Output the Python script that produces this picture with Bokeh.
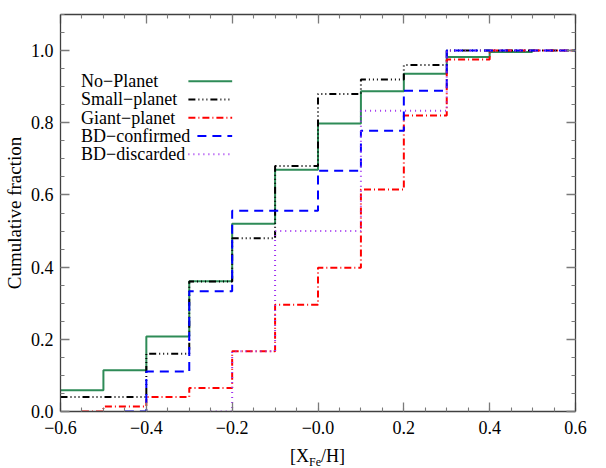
from bokeh.plotting import figure
from bokeh.models import FixedTicker, LinearAxis, Range1d, Label, CustomJSTickFormatter, Div
from bokeh.layouts import column
from bokeh.embed import file_html
from bokeh.resources import INLINE

# ---------------- data ----------------
bin_edges = [-0.6, -0.5, -0.4, -0.3, -0.2, -0.1, 0.0, 0.1, 0.2, 0.3, 0.4, 0.5, 0.6]
no_planet    = [0.059, 0.114, 0.208, 0.361, 0.520, 0.670, 0.798, 0.887, 0.936, 0.982, 0.996, None]
small_planet = [0.04, 0.04, 0.16, 0.36, 0.48, 0.68, 0.88, 0.92, 0.96, 1.0, 1.0, 1.0]
giant_planet = [0.0, 0.014, 0.040, 0.065, 0.167, 0.296, 0.398, 0.615, 0.820, 0.975, 1.0, 1.0]
bd_confirmed = [None, 0.0, 0.111, 0.333, 0.556, 0.556, 0.667, 0.778, 0.889, 1.0, 1.0, 1.0]
bd_discarded = [None, None, None, 0.0, 0.167, 0.5, 0.5, 0.833, 0.833, 1.0, 1.0, 1.0]
series_names = ["No\u2212Planet", "Small\u2212planet", "Giant\u2212planet", "BD\u2212confirmed", "BD\u2212discarded"]
series_start = [-0.6, -0.6, -0.55, -0.45, -0.25]
series_end = [0.5, 0.6, 0.6, 0.6, 0.6]
x_ticks = [-0.6, -0.4, -0.2, 0.0, 0.2, 0.4, 0.6]
x_tick_labels = ["\u22120.6", "\u22120.4", "\u22120.2", "\u22120.0", "0.2", "0.4", "0.6"]
y_ticks = [0.0, 0.2, 0.4, 0.6, 0.8, 1.0]
y_tick_labels = ["0.0", "0.2", "0.4", "0.6", "0.8", "1.0"]

# ---------------- styles ----------------
FONT = "Liberation Serif"
styles = [
    dict(line_color="#2e8b57", line_width=2.0, line_dash="solid"),
    dict(line_color="#000000", line_width=2.0, line_dash="7 3 1 3 1 3 1 3"),
    dict(line_color="#ff0000", line_width=2.0, line_dash="7 3 1 3"),
    dict(line_color="#0000ff", line_width=2.0, line_dash="9 6"),
    dict(line_color="#a030f0", line_width=2.0, line_dash="1 4"),
]

LEFT, RIGHT, FW = 53, 22, 515


def steps(vals, x0, x1):
    xs, ys = [], []
    for i, v in enumerate(vals):
        if v is None:
            continue
        a = max(bin_edges[i], x0)
        b = min(bin_edges[i + 1], x1)
        if b <= a:
            continue
        xs += [a, b]
        ys += [v, v]
    return xs, ys


def label_formatter(vals, labels):
    return CustomJSTickFormatter(args=dict(tvals=vals, tlabels=labels), code="""
        let best = 0, d = 1e9;
        for (let i = 0; i < tvals.length; i++) {
            const dd = Math.abs(tvals[i] - tick);
            if (dd < d) { d = dd; best = i; }
        }
        return tlabels[best];
    """)


xr = Range1d(-0.6, 0.6)
p = figure(frame_width=FW, frame_height=397, output_backend="svg", toolbar_location=None,
           x_range=xr, y_range=Range1d(0.0, 1.1),
           min_border_left=LEFT, min_border_right=RIGHT, min_border_top=14, min_border_bottom=30)
p.outline_line_color = None
p.xgrid.visible = False
p.ygrid.visible = False

x_minor = [round(-0.6 + 0.05 * i, 3) for i in range(25)]
y_minor = [round(0.05 * i, 3) for i in range(23)]

AX = "#404040"
TK = "#7a7a7a"


def style_axis(ax):
    ax.axis_line_color = AX
    ax.axis_line_width = 1.3
    ax.major_tick_line_color = TK
    ax.minor_tick_line_color = TK
    ax.major_tick_line_width = 1.3
    ax.minor_tick_line_width = 1.1
    ax.major_tick_in = 9
    ax.major_tick_out = 0
    ax.minor_tick_in = 4
    ax.minor_tick_out = 0
    ax.major_label_text_font = FONT
    ax.major_label_text_font_size = "18px"
    ax.major_label_text_color = "black"


xa = p.xaxis[0]
xa.ticker = FixedTicker(ticks=x_ticks, minor_ticks=x_minor)
xa.formatter = label_formatter(x_ticks, x_tick_labels)
style_axis(xa)
xa.major_label_standoff = 9

ya = p.yaxis[0]
ya.ticker = FixedTicker(ticks=y_ticks, minor_ticks=y_minor)
ya.formatter = label_formatter(y_ticks, y_tick_labels)
style_axis(ya)
ya.major_label_standoff = 7
ya.axis_label = "Cumulative fraction"
ya.axis_label_text_font = FONT
ya.axis_label_text_font_size = "19px"
ya.axis_label_text_font_style = "normal"
ya.axis_label_text_color = "black"
ya.axis_label_standoff = 3

empty = CustomJSTickFormatter(code="return ''")
top = LinearAxis(ticker=FixedTicker(ticks=x_ticks, minor_ticks=x_minor), formatter=empty)
style_axis(top)
top.major_label_standoff = 0
top.major_label_text_font_size = "1px"
p.add_layout(top, "above")
right = LinearAxis(ticker=FixedTicker(ticks=y_ticks, minor_ticks=y_minor), formatter=empty)
style_axis(right)
right.major_label_standoff = 0
right.major_label_text_font_size = "1px"
p.add_layout(right, "right")

# ---------------- step curves ----------------
all_series = [no_planet, small_planet, giant_planet, bd_confirmed, bd_discarded]
for vals, x0, x1, st in zip(all_series, series_start, series_end, styles):
    xs, ys = steps(vals, x0, x1)
    p.line(xs, ys, **st)

# ---------------- legend (text left, sample line right) ----------------
leg_text_x = -0.552
leg_line_x0 = [-0.302, -0.302, -0.302, -0.281, -0.302]
leg_line_x1 = -0.200
leg_y0 = 0.915
leg_dy = 0.0505
for i, (name, st) in enumerate(zip(series_names, styles)):
    yy = leg_y0 - i * leg_dy
    p.add_layout(Label(x=leg_text_x, y=yy, text=name, text_font=FONT, text_font_size="18px",
                       text_baseline="middle", text_align="left", text_color="black"))
    p.line([leg_line_x0[i], leg_line_x1], [yy, yy], **st)

# ---------------- x-axis title with subscript (HTML strip below the plot) ----------------
xlabel_html = ("<div style=\"padding-left:290px; padding-top:5px; font-family:'Liberation Serif'; "
               "font-size:18px; line-height:20px; color:black; white-space:nowrap;\">[X<span "
               "style=\"font-size:12px; position:relative; top:4px;\">Fe</span>/H]</div>")
xlabel = Div(text=xlabel_html, width=LEFT + FW + RIGHT, height=25, margin=0)

layout = column(p, xlabel, spacing=0)
open("out.html", "w").write(file_html(layout, INLINE))
